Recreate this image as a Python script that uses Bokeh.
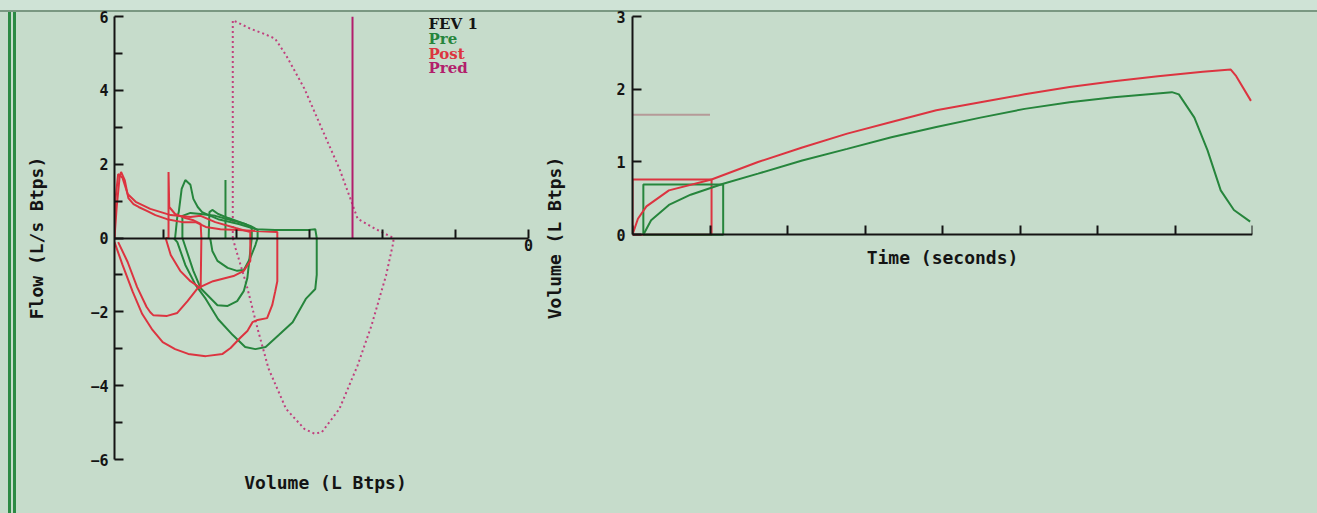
from bokeh.plotting import figure
from bokeh.models import Range1d, LinearAxis, FixedTicker, ColumnDataSource
from bokeh.layouts import row
from bokeh.core.properties import value
from bokeh.embed import file_html
from bokeh.resources import INLINE

# ---------------- data: flow-volume (volume axis decreasing to the right) ----------------
flow_ticks = [-6, -4, -2, 0, 2, 4, 6]
flow_minor = [-5, -3, -1, 1, 3, 5]
vol_labelled_ticks = [0]
vol_unlabelled_ticks = [1, 2, 3, 4, 5]

post1_vol = [5.67, 5.64, 5.60, 5.58, 5.53, 5.48, 5.41, 5.34, 5.22, 5.11, 4.95, 4.74, 4.56, 4.42, 4.22, 3.97, 3.74,
             3.45, 3.44, 3.44, 3.47, 3.51, 3.58, 3.71, 3.78, 3.85, 3.95, 4.08, 4.19, 4.42, 4.66, 4.84, 5.01, 5.15,
             5.29, 5.42, 5.56, 5.67]
post1_flow = [0, 0.84, 1.65, 1.79, 1.57, 1.08, 0.92, 0.84, 0.73, 0.62, 0.51, 0.43, 0.43, 0.30, 0.24, 0.22, 0.19,
              0.16, 0.16, -1.17, -1.46, -1.82, -2.17, -2.22, -2.28, -2.52, -2.71, -2.98, -3.14, -3.20, -3.14, -3.01,
              -2.82, -2.49, -2.06, -1.46, -0.73, -0.11]
post2_vol = [5.67, 5.66, 5.62, 5.56, 5.49, 5.38, 5.18, 4.90, 4.63, 4.49, 4.29, 4.01, 3.81, 3.81, 3.90, 4.04, 4.32,
             4.53, 4.67, 4.81, 4.95, 5.14, 5.18, 5.23, 5.36, 5.49, 5.62]
post2_flow = [0, 0.98, 1.73, 1.63, 1.19, 0.98, 0.79, 0.62, 0.57, 0.60, 0.43, 0.27, 0.16, -0.62, -0.89, -1.03, -1.17,
              -1.36, -1.71, -2.03, -2.11, -2.09, -2.01, -1.87, -1.33, -0.65, -0.11]
post3_vol = [4.97, 4.93, 4.93, 4.92, 4.84, 4.70, 4.60, 4.49, 4.48, 4.49, 4.63, 4.77, 4.90, 4.97]
post3_flow = [0, 0, 1.79, 0.84, 0.65, 0.54, 0.49, 0.38, 0, -1.36, -1.17, -0.89, -0.46, 0]

pre1_vol = [4.84, 4.81, 4.79, 4.75, 4.70, 4.63, 4.59, 4.53, 4.47, 4.38, 4.25, 3.97, 3.74, 3.47, 3.01, 2.92, 2.90,
            2.90, 2.92, 3.05, 3.23, 3.42, 3.60, 3.74, 3.88, 4.05, 4.25, 4.42, 4.56, 4.70, 4.81, 4.86]
pre1_flow = [0, 0.57, 0.70, 1.33, 1.57, 1.44, 1.06, 0.84, 0.70, 0.62, 0.51, 0.38, 0.24, 0.22, 0.22, 0.24, 0,
             -1.00, -1.38, -1.65, -2.28, -2.63, -2.95, -3.01, -2.95, -2.63, -2.20, -1.65, -1.27, -0.73, -0.11, 0]
pre2_vol = [4.74, 4.74, 4.63, 4.49, 4.29, 4.08, 3.88, 3.79, 3.79, 3.82, 3.85, 3.90, 3.99, 4.12, 4.26, 4.49, 4.59, 4.74]
pre2_flow = [0, 0.60, 0.68, 0.65, 0.60, 0.49, 0.38, 0.27, 0, -0.54, -1.08, -1.44, -1.71, -1.84, -1.82, -1.36, -0.89, 0]
pre3_vol = [4.38, 4.37, 4.33, 4.25, 4.11, 3.95, 3.81, 3.71, 3.71, 3.74, 3.81, 3.90, 3.99, 4.12, 4.26, 4.33, 4.36]
pre3_flow = [0, 0.70, 0.76, 0.65, 0.54, 0.43, 0.33, 0.22, 0, -0.19, -0.54, -0.87, -0.89, -0.81, -0.62, -0.35, 0]
pre_spike_vol = [4.15, 4.15]
pre_spike_flow = [0, 1.57]

pred_vol = [4.05, 4.05, 3.81, 3.62, 3.47, 3.32, 3.07, 2.83, 2.59, 2.44, 2.34, 2.10, 1.85, 1.85, 1.95, 2.15, 2.34,
            2.59, 2.83, 2.93, 3.07, 3.32, 3.56, 3.71, 3.86, 4.01, 4.05]
pred_flow = [0, 5.90, 5.67, 5.53, 5.40, 4.95, 4.05, 2.96, 1.88, 1.07, 0.52, 0.25, 0, -0.11, -1.01, -2.37, -3.45,
             -4.63, -5.26, -5.30, -5.17, -4.63, -3.54, -2.46, -1.28, -0.29, 0]
pred_fev1_vol = 2.41
pred_fev1_top = 6.0

legend_labels = ["FEV 1", "Pre", "Post", "Pred"]

# ---------------- data: volume-time ----------------
time_ticks = [0, 1, 2, 3, 4, 5, 6, 7, 8]
vt_ticks = [0, 1, 2, 3]
t_post = [0, 0.07, 0.18, 0.47, 1.02, 1.62, 2.19, 2.77, 3.34, 3.92, 4.49, 5.06, 5.64, 6.21, 6.78, 7.36, 7.72, 7.79, 7.98]
v_post = [0, 0.22, 0.39, 0.61, 0.76, 1.00, 1.20, 1.39, 1.55, 1.71, 1.82, 1.93, 2.03, 2.11, 2.18, 2.24, 2.27, 2.18, 1.84]
t_pre = [0.14, 0.24, 0.47, 0.75, 1.17, 1.62, 2.19, 2.77, 3.34, 3.92, 4.49, 5.06, 5.64, 6.21, 6.96, 7.05, 7.25, 7.42,
         7.59, 7.76, 7.97]
v_pre = [0, 0.20, 0.41, 0.55, 0.70, 0.84, 1.02, 1.18, 1.34, 1.48, 1.61, 1.73, 1.82, 1.89, 1.96, 1.93, 1.61, 1.16,
         0.61, 0.34, 0.18]
fev1_start = [0.0, 0.14]      # post, pre
fev1_end = [1.02, 1.17]
fev1_value = [0.76, 0.69]
pred_fev1 = 1.65
pred_fev1_t = [0.0, 1.0]

# ---------------- styles ----------------
BG = "#c6dccb"
BG_TOP = "#cfe3d6"
RED = "#dc3440"
GREEN = "#26853c"
PRED = "#c0407e"
PRED_SOLID = "#b21e6c"
INK = "#141414"
MONO = "DejaVu Sans Mono"
SERIF = "DejaVu Serif"


def style_axis(ax):
    ax.axis_line_color = INK
    ax.axis_line_width = 2
    ax.major_tick_line_color = INK
    ax.major_tick_line_width = 2
    ax.minor_tick_line_color = INK
    ax.minor_tick_line_width = 2
    ax.major_tick_in = 9
    ax.major_tick_out = 0
    ax.minor_tick_in = 8
    ax.minor_tick_out = 0
    ax.major_label_text_font = MONO
    ax.major_label_text_font_style = "bold"
    ax.major_label_text_font_size = "15px"
    ax.major_label_text_color = INK
    ax.axis_label_text_font = MONO
    ax.axis_label_text_font_style = "bold"
    ax.axis_label_text_font_size = "18px"
    ax.axis_label_text_color = INK


# ================= left: flow-volume =================
p1 = figure(width=540, height=513, x_range=Range1d(5.67, -0.11), y_range=Range1d(-6, 6),
            x_axis_location=None, y_axis_location="left", toolbar_location=None,
            output_backend="svg", min_border_left=114, min_border_right=4,
            min_border_top=16, min_border_bottom=54,
            background_fill_color=BG, border_fill_color=None, outline_line_color=None)
p1.grid.visible = False

ya = p1.yaxis[0]
style_axis(ya)
ya.ticker = FixedTicker(ticks=flow_ticks, minor_ticks=flow_minor)
ya.major_label_standoff = 6
ya.axis_label = "Flow (L/s Btps)"
ya.axis_label_standoff = 40

xl = LinearAxis(ticker=FixedTicker(ticks=[], minor_ticks=[]))
style_axis(xl)
xl.axis_line_color = None
xl.major_tick_line_color = None
xl.minor_tick_line_color = None
xl.axis_label = "Volume (L Btps)"
xl.axis_label_standoff = 12
p1.add_layout(xl, "below")

xa = LinearAxis(fixed_location=0, bounds=(0, 5.67),
                ticker=FixedTicker(ticks=vol_labelled_ticks, minor_ticks=vol_unlabelled_ticks))
style_axis(xa)
xa.minor_tick_in = 9
xa.major_label_standoff = 1
p1.add_layout(xa, "below")

p1.line(pred_vol, pred_flow, line_color=PRED, line_width=2, line_dash="2 3")
p1.line([pred_fev1_vol, pred_fev1_vol], [0, pred_fev1_top], line_color=PRED_SOLID, line_width=2)
for xs, ys in [(pre1_vol, pre1_flow), (pre2_vol, pre2_flow), (pre3_vol, pre3_flow), (pre_spike_vol, pre_spike_flow)]:
    p1.line(xs, ys, line_color=GREEN, line_width=2)
for xs, ys in [(post1_vol, post1_flow), (post2_vol, post2_flow), (post3_vol, post3_flow)]:
    p1.line(xs, ys, line_color=RED, line_width=2)

leg = ColumnDataSource(dict(x=[1.37] * 4, y=[5.80, 5.39, 4.99, 4.61], text=legend_labels,
                            color=[INK, GREEN, RED, PRED_SOLID]))
p1.text(x="x", y="y", text="text", text_color="color", source=leg, text_font=value(SERIF),
        text_font_style="bold", text_font_size="15px", text_baseline="middle", text_align="left")

# ================= right: volume-time =================
p2 = figure(width=777, height=513, x_range=Range1d(0, 8), y_range=Range1d(-3.09, 3.0),
            x_axis_location=None, y_axis_location="left",
            toolbar_location=None, output_backend="svg",
            min_border_left=92, min_border_right=65, min_border_top=16, min_border_bottom=54,
            background_fill_color=BG, border_fill_color=None, outline_line_color=None)
p2.grid.visible = False
xb = LinearAxis(fixed_location=0, ticker=FixedTicker(ticks=[], minor_ticks=time_ticks))
style_axis(xb)
xb.minor_tick_in = 9
xb.axis_label = "Time (seconds)"
xb.axis_label_standoff = 12
p2.add_layout(xb, "below")
yb = p2.yaxis[0]
style_axis(yb)
yb.bounds = (0, 3)
yb.ticker = FixedTicker(ticks=vt_ticks)
yb.minor_tick_line_color = None
yb.major_label_standoff = 7
yb.axis_label = "Volume (L Btps)"
yb.axis_label_standoff = 48

p2.line(pred_fev1_t, [pred_fev1, pred_fev1], line_color="#b59a98", line_width=2)
p2.quad(left=fev1_start, right=fev1_end, bottom=[0, 0], top=fev1_value, fill_color=None,
        line_color=[RED, GREEN], line_width=2)
p2.line(t_pre, v_pre, line_color=GREEN, line_width=2)
p2.line(t_post, v_post, line_color=RED, line_width=2)

deco = ("linear-gradient(to bottom, " + BG_TOP + " 0px, " + BG_TOP + " 10px, #7a9882 10px, #7a9882 12px, "
        "transparent 12px), "
        "linear-gradient(to right, transparent 8px, #2c8a44 8px, #2c8a44 11px, transparent 11px, "
        "transparent 13px, #2c8a44 13px, #2c8a44 16px, transparent 16px)")
layout = row(p1, p2, spacing=0,
             styles={"background-color": BG, "background-image": deco, "background-repeat": "no-repeat"})

open("out.html", "w").write(file_html(layout, INLINE))
